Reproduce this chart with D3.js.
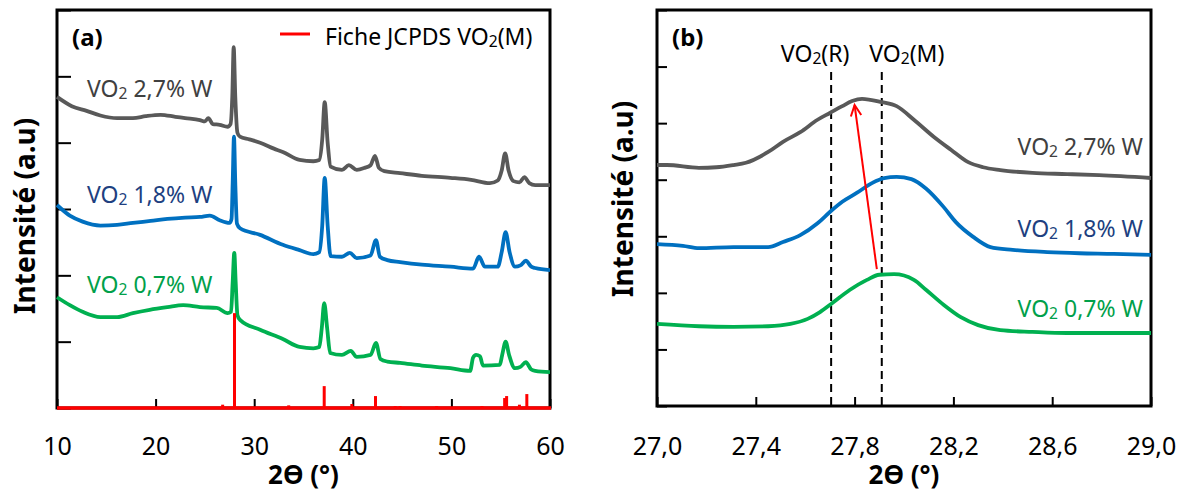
<!DOCTYPE html>
<html><head><meta charset="utf-8">
<script src="https://cdn.jsdelivr.net/npm/d3@7"></script>
<style>body{margin:0;background:#fff} svg{display:block;font-family:"Noto Sans",sans-serif}</style>
</head><body><svg id="c" width="1185" height="493"></svg>
<script>
// ---------- Panel (a) data : [2θ, intensity a.u.] ----------
const a_W27 = [[10,469],[11.5,455],[13,448],[14.4,441],[16.1,437],[17.7,437],[19,440],[20.5,442],[22,439],[23,437],[24.5,434],[25,432],[25.35,437],[25.8,428],[26.5,427],[27.3,424],[27.6,428],[27.78,470],[27.92,544],[28.08,470],[28.3,415],[28.56,409],[29.5,405],[30.6,400],[32,391],[32.9,386],[34.6,374],[36,372],[36.6,374],[36.9,405],[37.15,461],[37.45,400],[37.75,364],[38.9,359],[39.6,366],[40.4,359],[41.2,362],[41.8,366],[42.25,380],[42.65,362],[43.2,357],[44.8,354],[47,350],[49.9,347],[52,344],[53.9,339],[54.7,343],[55.1,358],[55.45,384],[55.8,358],[56.3,342],[56.9,340],[57.4,348],[57.9,339],[58.5,336],[60,336]];
const a_W18 = [[10,306],[11.3,290],[12.6,281],[14.4,275],[16.1,276],[17.7,279],[19.5,282],[21.2,285],[23,287],[24.5,288],[25.5,290],[26.5,283],[27.5,279],[27.7,285],[27.82,340],[27.95,409],[28.08,340],[28.25,278],[28.56,271],[30.6,261],[32.9,246],[34.6,238],[36,232],[36.6,235],[36.9,275],[37.15,347],[37.45,275],[37.75,229],[38.9,228],[39.7,234],[40.4,226],[41.8,230],[42.35,253],[42.75,228],[43.5,223],[44.8,220],[47,216],[49.9,213],[52.2,210],[52.8,228],[53.4,213],[54.7,213],[55.1,235],[55.5,265],[55.9,235],[56.45,213],[57,215],[57.55,222],[58.1,213],[58.5,211],[60,208]];
const a_W07 = [[10,167],[11.3,155],[12.6,145],[14.4,137],[16.1,137],[17.7,143],[19.4,148],[21.2,152],[22.8,155],[24.5,152],[26.2,151],[27.3,143],[27.65,145],[27.82,190],[27.98,234],[28.12,190],[28.3,140],[28.56,133],[30.6,118],[32.9,104],[34.6,92],[36,90],[36.6,92],[36.85,120],[37.1,158],[37.4,120],[37.7,83],[38.9,80],[39.8,86],[40.4,77],[41.8,80],[42.35,98],[42.8,74],[43.5,70],[44.8,68],[47,64],[49.9,60],[51.9,56],[52.2,76],[52.5,80],[52.9,78],[53.2,64],[54.9,65],[55.15,80],[55.5,100],[55.85,80],[56.45,60],[57,62],[57.55,69],[58.1,58],[58.5,56],[60,54]];
// JCPDS VO2(M) reference sticks
const jcpdsPos = [26.8,28.0,33.5,37.1,39.9,42.3,44.3,44.8,48.5,53.1,55.4,55.6,56.9,57.65];
const jcpdsInt = [5,143,4,33,6,18,3,3,3,3,15,18,5,21];

// ---------- Panel (b) data ----------
const b_W27 = [[27,426],[27.04,426],[27.17,421],[27.24,422],[27.31,426],[27.36,430],[27.45,449],[27.51,467],[27.58,484],[27.65,506],[27.7,518],[27.75,530],[27.79,539],[27.83,543],[27.91,537],[27.97,530],[28.04,506],[28.12,476],[28.19,453],[28.26,431],[28.32,422],[28.39,417],[28.52,412],[28.66,410],[28.79,408],[29,403]];
const b_W18 = [[27,286],[27.105,283],[27.17,279],[27.31,281],[27.45,281],[27.51,290],[27.58,302],[27.65,323],[27.7,343],[27.75,361],[27.81,377],[27.87,394],[27.92,403],[27.97,405],[28.03,401],[28.09,384],[28.16,352],[28.21,325],[28.28,299],[28.35,281],[28.44,276],[28.58,272],[28.71,270],[28.85,269],[29,267]];
const b_W07 = [[27,145],[27.17,141],[27.31,140],[27.45,141],[27.54,145],[27.61,154],[27.66,166],[27.71,182],[27.78,205],[27.85,223],[27.9,232],[27.96,233],[28.04,223],[28.09,205],[28.16,179],[28.23,157],[28.3,143],[28.39,134],[28.52,131],[28.66,129],[28.79,129],[29,129]];
const refLines = [27.705, 27.91];
const refNames = ["R", "M"];
const arrowFrom = [27.89, 242], arrowTo = [27.80, 532];

// ---------- ticks / labels ----------
const ticksXA = [10,20,30,40,50,60];
const ticksXB = [27.0,27.4,27.8,28.2,28.6,29.0];
const ticksYA = [0,100,200,300,400,500,600];
const ticksYB = [0,100,200,300,400,500,600,700];
const seriesNames = ["2,7% W","1,8% W","0,7% W"];
const lineColors = ["#595959","#0070c0","#00b050"];
const textColors = ["#404040","#203f80","#00a04a"];

const svg = d3.select("#c");

function vo2(t, suffix){
  t.append("tspan").text("VO");
  t.append("tspan").attr("font-size","0.68em").attr("dy",2).text("2");
  t.append("tspan").attr("dy",-2).text(suffix);
  return t;
}

function panel(o){
  const x = d3.scaleLinear().domain(o.xd).range([o.l,o.r]);
  const y = d3.scaleLinear().domain(o.yd).range([o.b,o.t]);
  const g = svg.append("g");
  g.append("g").attr("transform",`translate(${o.l},0)`)
    .call(d3.axisRight(y).tickValues(o.yt).tickSize(o.ytl).tickFormat(""))
    .call(s=>{s.select(".domain").remove(); s.selectAll("line").attr("stroke","#000").attr("stroke-width",2);});
  g.append("g").attr("transform",`translate(0,${o.b})`)
    .call(d3.axisBottom(x).tickValues(o.xt).tickSize(-9).tickPadding(455-o.b-18).tickFormat(o.fmt))
    .call(s=>{s.select(".domain").remove();
      s.selectAll("line").attr("stroke","#000").attr("stroke-width",2);
      s.selectAll("text").attr("font-size",25).attr("fill","#000").attr("font-family","'Noto Sans',sans-serif");});
  g.append("rect").attr("x",o.l).attr("y",o.t).attr("width",o.r-o.l).attr("height",o.b-o.t)
    .attr("fill","none").attr("stroke","#000").attr("stroke-width",3);
  g.append("text").attr("x",(o.l+o.r)/2).attr("y",484).attr("text-anchor","middle")
    .attr("font-size",26).attr("font-weight","bold").text("2\u03F4 (°)");
  g.append("text").attr("transform",`translate(${o.yx},${o.yy}) rotate(-90)`).attr("text-anchor","middle")
    .attr("font-size",28).attr("font-weight","bold").text("Intensité (a.u)");
  g.append("text").attr("x",o.l+15).attr("y",46).attr("font-size",24).attr("font-weight","bold").text(o.tag);
  return {x,y,g};
}

const line = (x,y)=>d3.line().x(d=>x(d[0])).y(d=>y(d[1])).curve(d3.curveMonotoneX);

// ---------- Panel (a) ----------
const A = panel({l:57,r:550,t:10,b:408,xd:[10,60],yd:[0,600],xt:ticksXA,yt:ticksYA,ytl:14,fmt:d3.format("d"),yx:35,yy:216,tag:"(a)"});
[a_W27,a_W18,a_W07].forEach((s,i)=>{
  A.g.append("path").datum(s).attr("d",line(A.x,A.y)).attr("fill","none")
    .attr("stroke",lineColors[i]).attr("stroke-width",3.8).attr("stroke-linejoin","round");
});
A.g.selectAll(".stick").data(jcpdsPos).join("line")
  .attr("x1",d=>A.x(d)).attr("x2",d=>A.x(d))
  .attr("y1",A.y(0)).attr("y2",(d,i)=>A.y(jcpdsInt[i]))
  .attr("stroke","#ff0000").attr("stroke-width",3);
A.g.append("line").attr("x1",A.x(10)).attr("x2",A.x(60)+1).attr("y1",A.y(0)).attr("y2",A.y(0))
  .attr("stroke","#ff0000").attr("stroke-width",3.5);
A.g.append("line").attr("x1",280).attr("x2",310).attr("y1",34).attr("y2",34).attr("stroke","#ff0000").attr("stroke-width",3);
vo2(A.g.append("text").attr("x",325).attr("y",45).attr("font-size",23).attr("fill","#000").text("Fiche JCPDS ").append("tspan"),"(M)");
const labA = [97,203,293];
seriesNames.forEach((n,i)=>{
  vo2(A.g.append("text").attr("x",87).attr("y",labA[i]).attr("font-size",23).attr("fill",textColors[i]), " "+n);
});

// ---------- Panel (b) ----------
const B = panel({l:657,r:1151,t:10,b:406,xd:[27,29],yd:[0,700],xt:ticksXB,yt:ticksYB,ytl:10,fmt:d=>d3.format(".1f")(d).replace(".",","),yx:633,yy:199,tag:"(b)"});
refLines.forEach((v,i)=>{
  B.g.append("line").attr("x1",B.x(v)).attr("x2",B.x(v)).attr("y1",72).attr("y2",B.y(0))
    .attr("stroke","#000").attr("stroke-width",2).attr("stroke-dasharray","8,5");
  vo2(B.g.append("text").attr("x",B.x(v)+(i?25:-16)).attr("y",62).attr("text-anchor","middle").attr("font-size",23).attr("fill","#000"),"("+refNames[i]+")");
});
[b_W27,b_W18,b_W07].forEach((s,i)=>{
  B.g.append("path").datum(s).attr("d",line(B.x,B.y)).attr("fill","none")
    .attr("stroke",lineColors[i]).attr("stroke-width",3.8).attr("stroke-linejoin","round");
});
const labB = [155,237,317];
seriesNames.forEach((n,i)=>{
  vo2(B.g.append("text").attr("x",1143).attr("y",labB[i]).attr("text-anchor","end").attr("font-size",23).attr("fill",textColors[i]), " "+n);
});
{
  const x1=B.x(arrowFrom[0]), y1=B.y(arrowFrom[1]), x2=B.x(arrowTo[0]), y2=B.y(arrowTo[1]);
  const ang = Math.atan2(y2-y1,x2-x1), L=12, w=0.45;
  B.g.append("line").attr("x1",x1).attr("y1",y1).attr("x2",x2).attr("y2",y2).attr("stroke","#ff0000").attr("stroke-width",2);
  B.g.append("path").attr("d",`M${x2-L*Math.cos(ang-w)},${y2-L*Math.sin(ang-w)}L${x2},${y2}L${x2-L*Math.cos(ang+w)},${y2-L*Math.sin(ang+w)}`)
    .attr("fill","none").attr("stroke","#ff0000").attr("stroke-width",2);
}
</script></body></html>
